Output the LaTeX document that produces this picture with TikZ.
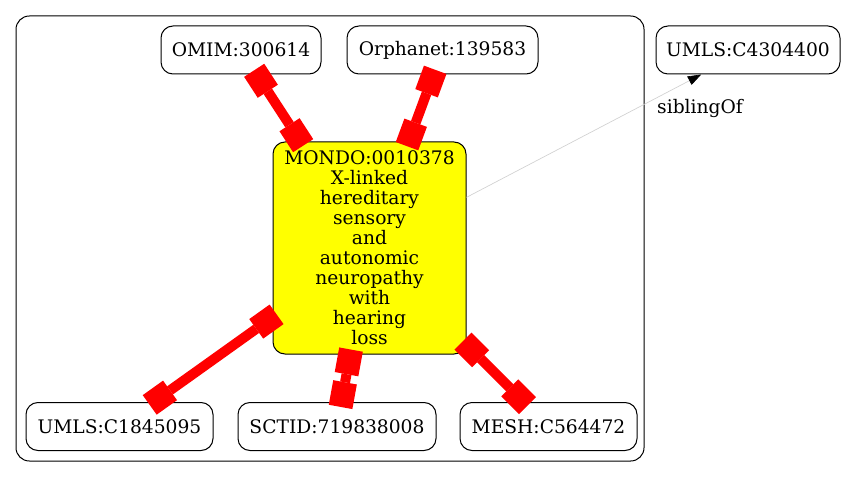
\documentclass[tikz,border=0pt]{standalone}
\usepackage{fontspec}
\setmainfont{DejaVu Serif}
\usetikzlibrary{positioning,arrows.meta}
\definecolor{gvyellow}{RGB}{255,255,0}
\definecolor{gvred}{RGB}{255,0,0}

\begin{document}
\begin{tikzpicture}[
    x=0.75pt, y=-0.75pt,
    root/.style={fill=gvyellow},
    xref/.style={draw=gvred, line width=7.5pt, shorten <=-3.75pt, shorten >=-3.75pt,
        {Square[length=18.75pt,width=18pt,line width=0pt]}-{Square[length=18.75pt,width=18pt,line width=0pt]}},
    sibling/.style={draw=black!18, line width=0.5pt,
        -{Triangle[length=10pt,width=7pt,color=black]}},
    every node/.style={ draw,
                        line width=0.75pt,
                        rounded corners=9pt,
                        font=\fontsize{14}{15}\selectfont,
                        align=center,
                        fill=white,
                        minimum height=36pt,
                        inner sep=2pt}]

    \useasboundingbox (0,0) rectangle (848,477);
    \draw[line width=0.75pt, rounded corners=10pt] (16,16) rectangle (644,461);

    \node[minimum width=120pt] (omim) at (241,50) {OMIM:300614};
    \node[minimum width=143.25pt, right=18.75pt of omim] (orpha) {Orphanet:139583};
    \node[minimum width=138pt] (umlsb) at (748,50) {UMLS:C4304400};

    \node[root, minimum width=144.75pt, minimum height=159pt] (mondo) at (369.5,248)
        {MONDO:0010378\\X-linked\\hereditary\\sensory\\and\\autonomic\\neuropathy\\with\\hearing\\loss};

    \node[minimum width=140.25pt] (umlsa) at (119.5,426.5) {UMLS:C1845095};
    \node[minimum width=148.5pt, right=18pt of umlsa] (sctid) {SCTID:719838008};
    \node[minimum width=132.75pt, right=17.25pt of sctid] (mesh) {MESH:C564472};

    \path (mondo) edge[sibling] (umlsb);
    \node[draw=none, fill=none, minimum height=0pt] (sibtext) at (700,108) {siblingOf};

    \path (omim) edge[xref] (mondo)
          (orpha) edge[xref] (mondo)
          (mondo) edge[xref] (umlsa)
          (mondo) edge[xref] (sctid)
          (mondo) edge[xref] (mesh);

\end{tikzpicture}
\end{document}
